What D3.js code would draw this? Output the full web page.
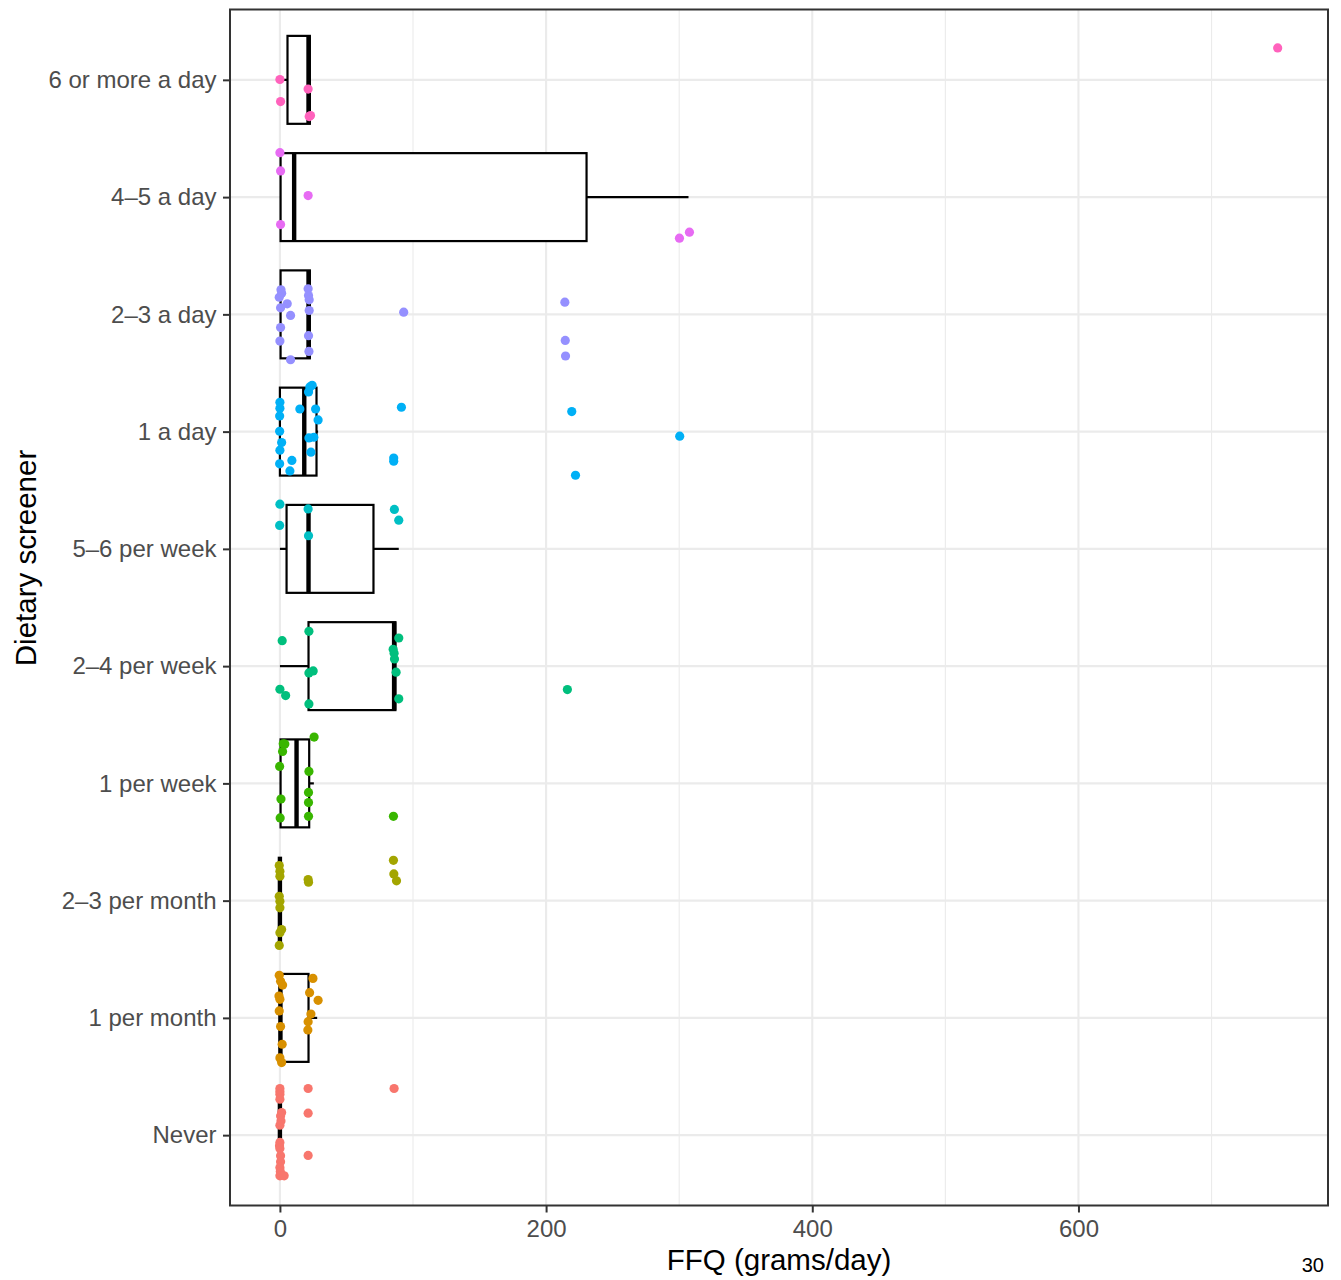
<!DOCTYPE html>
<html>
<head>
<meta charset="utf-8">
<script src="https://cdn.jsdelivr.net/npm/d3@7"></script>
<style>
  html, body { margin: 0; padding: 0; background: #ffffff; }
  svg { display: block; font-family: "Liberation Sans", Arial, Helvetica, sans-serif; }
</style>
</head>
<body>
<svg id="chart" width="1341" height="1280"></svg>
<script>
// Screener categories, bottom to top
const categories = ["Never", "1 per month", "2–3 per month", "1 per week", "2–4 per week",
  "5–6 per week", "1 a day", "2–3 a day", "4–5 a day", "6 or more a day"];
const colours = ["#F8766D", "#D89000", "#A3A500", "#39B600", "#00BF7D",
  "#00BFC4", "#00B0F6", "#9590FF", "#E76BF3", "#FF62BC"];

// Box summaries (grams/day) per category
const whiskerLow = [0, 0, 0, 0, 0, 0, 0, 0, 0, 0];
const quartile1 = [0, 0, 0, 0.5, 21.5, 5.0, 0, 0.5, 0.5, 5.7];
const medians   = [0, 0.4, 0, 12.5, 85.8, 21.5, 18.3, 21.5, 10.7, 21.5];
const quartile3 = [0, 21.5, 0, 22, 86.8, 70.3, 27.5, 22.5, 230.4, 22.5];
const whiskerHigh = [0, 28, 0, 25.5, 86.8, 89.3, 28.7, 22.5, 307, 22.5];

// Individual respondents: [FFQ grams/day, vertical jitter in category units]
const ptsNever = [[0,0.398],[0,0.372],[0,0.349],[0,0.307],[1.3,0.193],[0.5,0.164],[0.8,0.12],[0,0.085],
  [0,-0.062],[-0.3,-0.09],[0,-0.113],[0.5,-0.176],[0.5,-0.227],[0,-0.275],[0.3,-0.31],[0,-0.347],[3.2,-0.347],
  [21.2,0.398],[21.2,0.187],[21.2,-0.173],[85.8,0.398]];
const ptsMonth1 = [[-0.5,0.363],[0.5,0.312],[2.0,0.280],[-0.7,0.186],[0,0.158],[-0.5,0.059],[0.5,-0.074],
  [1.7,-0.225],[0,-0.341],[1.3,-0.381],[24.8,0.337],[22.3,0.215],[28.7,0.150],[23.3,0.033],[21.2,-0.032],[21.0,-0.103]];
const ptsMonth23 = [[-0.5,0.299],[0,0.250],[0,0.208],[-0.5,0.037],[0,-0.005],[0,-0.061],[1.3,-0.246],
  [0,-0.274],[-0.5,-0.382],[21.2,0.180],[21.5,0.157],[85.3,0.344],[85.6,0.228],[87.6,0.169]];
const ptsWeek1 = [[25.7,0.395],[2.5,0.338],[3.7,0.335],[2.0,0.272],[-0.2,0.145],[21.8,0.102],[0.8,-0.133],
  [21.5,-0.077],[21.5,-0.164],[0.2,-0.295],[21.5,-0.281],[85.3,-0.281]];
const ptsWeek24 = [[1.7,0.217],[21.8,0.297],[0,-0.197],[4.3,-0.251],[21.8,-0.058],[25,-0.041],[21.8,-0.322],
  [89.3,0.240],[85.1,0.144],[85.8,0.110],[86.1,0.061],[87.3,-0.052],[89.3,-0.279],[216,-0.200]];
const ptsWeek56 = [[0,0.381],[-0.2,0.200],[21.2,0.341],[21.5,0.112],[86.0,0.336],[89.3,0.245]];
const ptsDay1 = [[0,0.250],[0,0.199],[-0.2,0.134],[15,0.193],[26.8,0.193],[28.7,0.100],[-0.2,0.003],
  [1.3,-0.093],[0,-0.158],[-0.2,-0.275],[9,-0.246],[7.5,-0.335],[21.5,0.338],[22.5,0.381],[24.2,0.395],
  [21.8,-0.054],[25.5,-0.048],[23.3,-0.175],[91.3,0.208],[219.3,0.171],[300.4,-0.039],[85.5,-0.225],
  [85.5,-0.252],[222.1,-0.372]];
const ptsDay23 = [[0.8,0.209],[1.3,0.181],[-0.5,0.146],[5.5,0.090],[0.5,0.056],[8.0,-0.009],[0.5,-0.112],
  [0,-0.228],[8.0,-0.387],[21.2,0.218],[21.5,0.161],[22,0.124],[22,0.033],[21.5,-0.182],[21.8,-0.316],
  [93,0.019],[214.1,0.104],[214.4,-0.222],[214.6,-0.355]];
const ptsDay45 = [[0,0.379],[0.5,0.223],[21.2,0.013],[0.5,-0.234],[300.2,-0.350],[307.7,-0.299]];
const ptsDay6 = [[0,0.003],[0.5,-0.185],[21.2,-0.079],[22,-0.313],[23,-0.304],[749.7,0.272]];
const pointSets = [ptsNever, ptsMonth1, ptsMonth23, ptsWeek1, ptsWeek24, ptsWeek56, ptsDay1, ptsDay23, ptsDay45, ptsDay6];

// Axis ticks
const xMajor = [0, 200, 400, 600];
const xMinor = [100, 300, 500, 700];
const xTitle = "FFQ (grams/day)";
const yTitle = "Dietary screener";
const pageNumber = "30";

const svg = d3.select("#chart");
const panel = { left: 230, right: 1328, top: 9.5, bottom: 1205.5 };

const x = d3.scaleLinear().domain([-37.5, 787.5]).range([panel.left, panel.right]);
const y = d3.scaleLinear().domain([-0.6, categories.length - 0.4]).range([panel.bottom, panel.top]);
const halfBox = 0.375; // box spans 0.75 of a category step

// Panel background and grid
svg.append("rect").attr("x", panel.left).attr("y", panel.top)
  .attr("width", panel.right - panel.left).attr("height", panel.bottom - panel.top).attr("fill", "#fff");
const grid = svg.append("g");
grid.selectAll("line.minor").data(xMinor).join("line")
  .attr("x1", d => x(d)).attr("x2", d => x(d)).attr("y1", panel.top).attr("y2", panel.bottom)
  .attr("stroke", "#EBEBEB").attr("stroke-width", 1.1);
grid.selectAll("line.majx").data(xMajor).join("line")
  .attr("x1", d => x(d)).attr("x2", d => x(d)).attr("y1", panel.top).attr("y2", panel.bottom)
  .attr("stroke", "#EBEBEB").attr("stroke-width", 2.1);
grid.selectAll("line.majy").data(categories.map((c, i) => i)).join("line")
  .attr("y1", d => y(d)).attr("y2", d => y(d)).attr("x1", panel.left).attr("x2", panel.right)
  .attr("stroke", "#EBEBEB").attr("stroke-width", 2.1);

// Boxplots
const boxes = svg.append("g");
categories.forEach((c, i) => {
  const g = boxes.append("g");
  const yc = y(i), yt = y(i + halfBox), yb = y(i - halfBox);
  if (whiskerHigh[i] > quartile3[i]) {
    g.append("line").attr("x1", x(quartile3[i])).attr("x2", x(whiskerHigh[i]))
      .attr("y1", yc).attr("y2", yc).attr("stroke", "#000").attr("stroke-width", 2.2);
  }
  if (whiskerLow[i] < quartile1[i]) {
    g.append("line").attr("x1", x(whiskerLow[i])).attr("x2", x(quartile1[i]))
      .attr("y1", yc).attr("y2", yc).attr("stroke", "#000").attr("stroke-width", 2.2);
  }
  g.append("rect").attr("x", x(quartile1[i])).attr("y", yt)
    .attr("width", Math.max(0, x(quartile3[i]) - x(quartile1[i]))).attr("height", yb - yt)
    .attr("fill", "#fff").attr("stroke", "#000").attr("stroke-width", 2.2);
  g.append("line").attr("x1", x(medians[i])).attr("x2", x(medians[i]))
    .attr("y1", yt).attr("y2", yb).attr("stroke", "#000").attr("stroke-width", 4.4);
});

// Jittered respondents
const dots = svg.append("g");
pointSets.forEach((pts, i) => {
  dots.selectAll(null).data(pts).join("circle")
    .attr("cx", d => x(d[0])).attr("cy", d => y(i + d[1])).attr("r", 4.6)
    .attr("fill", colours[i]);
});

// Panel border
svg.append("rect").attr("x", panel.left).attr("y", panel.top)
  .attr("width", panel.right - panel.left).attr("height", panel.bottom - panel.top)
  .attr("fill", "none").attr("stroke", "#333333").attr("stroke-width", 2);

// Axes
const xAxis = svg.append("g").attr("transform", `translate(0,${panel.bottom})`)
  .call(d3.axisBottom(x).tickValues(xMajor).tickSize(7).tickPadding(7).tickFormat(d3.format("d")));
const yAxis = svg.append("g").attr("transform", `translate(${panel.left},0)`)
  .call(d3.axisLeft(y).tickValues(categories.map((c, i) => i)).tickSize(7).tickPadding(6.5)
    .tickFormat(i => categories[i]));
[xAxis, yAxis].forEach(a => {
  a.select(".domain").remove();
  a.selectAll(".tick line").attr("stroke", "#333333").attr("stroke-width", 2);
  a.selectAll(".tick text").attr("fill", "#4D4D4D").style("font-size", "24px")
    .style("font-family", "'Liberation Sans', Arial, sans-serif");
});

// Titles
svg.append("text").attr("x", (panel.left + panel.right) / 2).attr("y", 1270)
  .attr("text-anchor", "middle").style("font-size", "29.5px").attr("fill", "#000").text(xTitle);
svg.append("text").attr("transform", "translate(36,558) rotate(-90)")
  .attr("text-anchor", "middle").style("font-size", "29.5px").attr("fill", "#000").text(yTitle);
svg.append("text").attr("x", 1324).attr("y", 1272).attr("text-anchor", "end")
  .style("font-size", "20px").attr("fill", "#000").text(pageNumber);
</script>
</body>
</html>
